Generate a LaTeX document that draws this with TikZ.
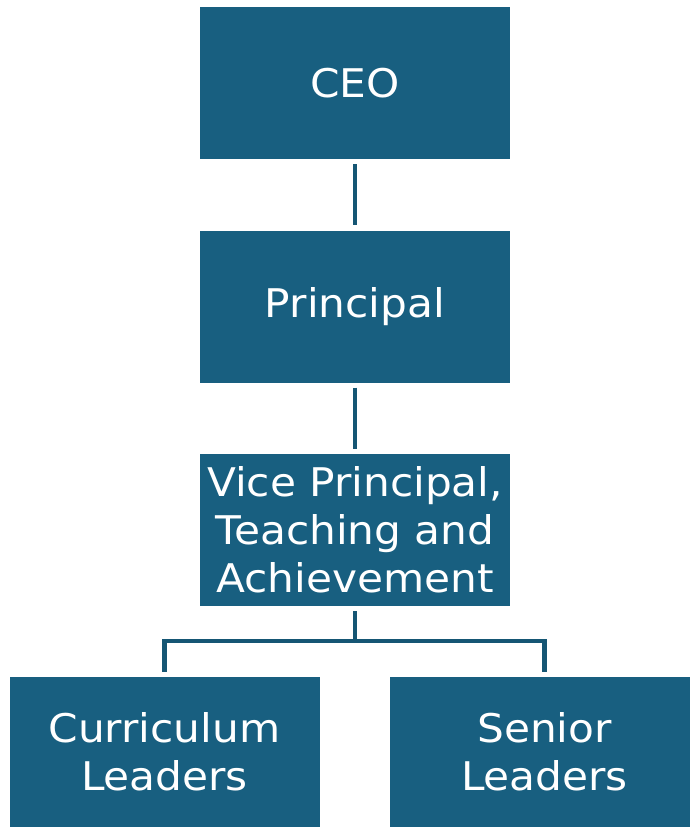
\documentclass[tikz,border=0pt]{standalone}
\usepackage{fontspec}
\setmainfont[FakeStretch=1.07]{DejaVu Sans}
\definecolor{boxblue}{RGB}{24,95,128}
\definecolor{lineblue}{RGB}{21,86,116}
\begin{document}
\begin{tikzpicture}[x=1pt,y=-1pt,
  orgbox/.style={fill=boxblue, draw=none, text=white, minimum width=310pt, minimum height=152pt,
    inner sep=0pt, align=center, font=\fontsize{39.5}{48}\selectfont},
  link/.style={draw=lineblue, line width=4.5pt, shorten >=5pt, shorten <=5pt}]
\useasboundingbox (0,0) rectangle (690,827);
\clip (0,0) rectangle (690,827);
\node[orgbox] (ceo) at (355,83) {CEO};
\node[orgbox] (prin) at (355,306.5) {Principal};
\node[orgbox] (vp) at (355,530) {Vice Principal,\\Teaching and\\Achievement};
\node[orgbox, minimum height=150pt] (cl) at (164.5,752) {Curriculum\\Leaders};
\node[orgbox, minimum height=150pt] (sl) at (544.5,752) {Senior\\Leaders};
\coordinate (j) at (355,641);
\draw[link] (ceo) -- (prin);
\draw[link] (prin) -- (vp);
\draw[draw=lineblue, line width=4.5pt, shorten <=5pt] (vp) -- (j);
\draw[draw=lineblue, line width=4.5pt, shorten <=5pt, shorten >=5pt, line join=miter] (cl.north) |- (j) -| (sl.north);
\end{tikzpicture}
\end{document}
